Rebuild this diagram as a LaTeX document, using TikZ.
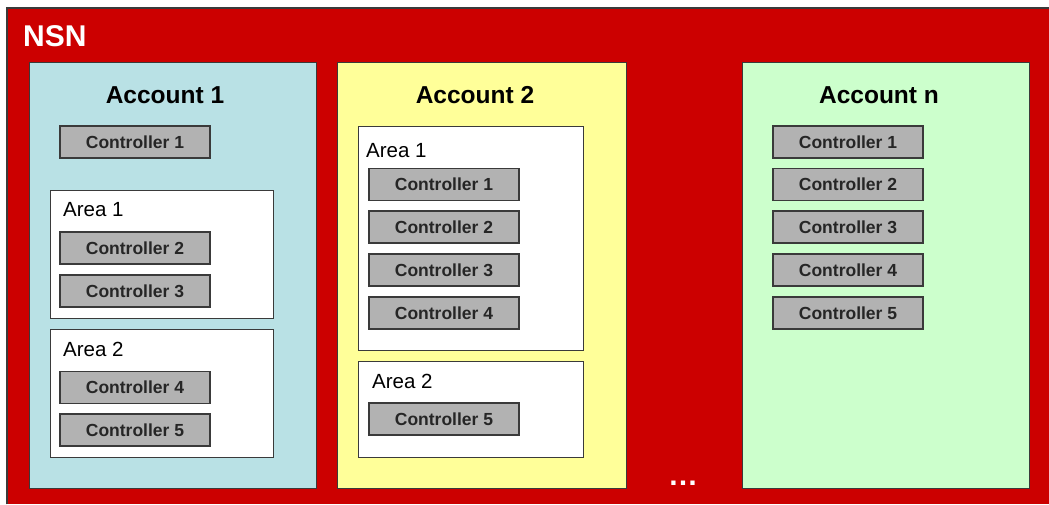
\documentclass[tikz,border=0pt]{standalone}
\usepackage{fontspec}
\setmainfont{Liberation Sans}
\definecolor{nsnred}{HTML}{CC0000}
\definecolor{acctblue}{HTML}{B9E1E5}
\definecolor{acctyellow}{HTML}{FFFF99}
\definecolor{acctgreen}{HTML}{CCFFCC}
\definecolor{ctrlgray}{HTML}{B2B2B2}
\definecolor{edge}{HTML}{3A3A3A}
\tikzset{
  box/.style={draw=edge, line width=1.1pt, inner sep=0pt, anchor=north west},
  account/.style={box},
  areabox/.style={box, fill=white},
  ctrl/.style={draw=edge, line width=1.1pt, inner sep=0pt, fill=ctrlgray,
    minimum width=150pt, minimum height=32pt,
    font=\fontsize{17.5}{17.5}\selectfont\bfseries, text=black!85},
  title/.style={font=\fontsize{24.5}{24.5}\selectfont\bfseries, anchor=base},
  arealabel/.style={font=\fontsize{20.5}{20.5}\selectfont, anchor=base west, inner sep=0pt},
}
\begin{document}
\begin{tikzpicture}[x=1pt, y=-1pt]
\useasboundingbox (0,0) rectangle (1049,504);
% outer NSN frame, running off the right and bottom edges
\fill[white] (0,0) rectangle (1049,504);
\node[inner sep=0pt, anchor=north west, fill=nsnred,
      minimum width=1042pt, minimum height=496pt] (nsn) at (7,8) {};
\draw[edge, line width=1.1pt] (nsn.south west) -- (nsn.north west) -- (nsn.north east);
\node[anchor=base west, inner sep=0pt, text=white,
      font=\fontsize{30}{30}\selectfont\bfseries] (nsnlabel) at (23,46) {NSN};

% account panels
\node[account, fill=acctblue,   minimum width=287pt, minimum height=426pt] (acc1) at (29,62) {};
\node[account, fill=acctyellow, minimum width=289pt, minimum height=426pt] (acc2) at (337,62) {};
\node[account, fill=acctgreen,  minimum width=287pt, minimum height=426pt] (accn) at (742,62) {};
\node[title] (acc1t) at (165,103) {Account 1};
\node[title] (acc2t) at (475,103) {Account 2};
\node[title] (accnt) at (879,103) {Account n};

% Account 1
\node[ctrl] (a1c1) at (135,142) {Controller 1};
\node[areabox, minimum width=223pt, minimum height=128pt] (a1ar1) at (50,190) {};
\node[arealabel] (a1ar1t) at (63,216) {Area 1};
\node[ctrl] (a1c2) at (135,248) {Controller 2};
\node[ctrl] (a1c3) at (135,291) {Controller 3};
\node[areabox, minimum width=223pt, minimum height=128pt] (a1ar2) at (50,329) {};
\node[arealabel] (a1ar2t) at (63,356) {Area 2};
\node[ctrl] (a1c4) at (135,387.5) {Controller 4};
\node[ctrl] (a1c5) at (135,430) {Controller 5};

% Account 2
\node[areabox, minimum width=225pt, minimum height=224pt] (a2ar1) at (358,126) {};
\node[arealabel] (a2ar1t) at (366,157) {Area 1};
\node[ctrl] (a2c1) at (444,184.5) {Controller 1};
\node[ctrl] (a2c2) at (444,227) {Controller 2};
\node[ctrl] (a2c3) at (444,270) {Controller 3};
\node[ctrl] (a2c4) at (444,313) {Controller 4};
\node[areabox, minimum width=225pt, minimum height=96pt] (a2ar2) at (358,361) {};
\node[arealabel] (a2ar2t) at (372,388) {Area 2};
\node[ctrl] (a2c5) at (444,419) {Controller 5};

% Account n
\node[ctrl] (anc1) at (848,142) {Controller 1};
\node[ctrl] (anc2) at (848,184.5) {Controller 2};
\node[ctrl] (anc3) at (848,227) {Controller 3};
\node[ctrl] (anc4) at (848,270) {Controller 4};
\node[ctrl] (anc5) at (848,313) {Controller 5};

% more accounts
\node[text=white, inner sep=0pt, font=\fontsize{30}{30}\selectfont\bfseries] (more) at (683,483) {…};
\end{tikzpicture}
\end{document}
